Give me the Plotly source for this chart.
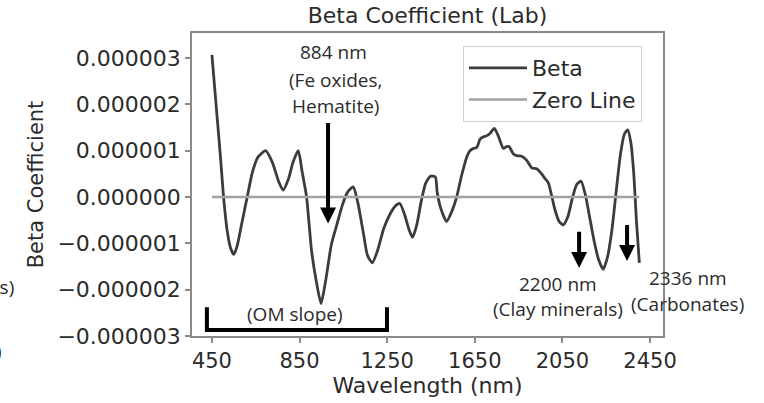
import plotly.graph_objects as go

# Regression coefficients (beta) across the spectrum, in units of 1e-6
wavelength_nm = [
    450, 470, 490, 503, 520, 535, 550, 565, 585, 611, 635, 660, 695, 725, 755,
    775, 800, 820, 844, 862, 882, 905, 925, 948, 970, 995, 1020, 1045, 1070,
    1095, 1115, 1140, 1160, 1182, 1205, 1235, 1265, 1290, 1308, 1330, 1350,
    1366, 1385, 1405, 1425, 1448, 1470, 1478, 1495, 1521, 1545, 1567, 1590,
    1613, 1628, 1645, 1659, 1674, 1690, 1704, 1719, 1739, 1757, 1780, 1795,
    1806, 1826, 1845, 1864, 1887, 1910, 1932, 1955, 1970, 1986, 2000, 2016,
    2035, 2054, 2075, 2095, 2115, 2135, 2155, 2175, 2195, 2215, 2236, 2255,
    2275, 2295, 2315, 2333, 2348, 2362, 2375, 2388, 2401,
]
beta_micro = [
    3.07, 1.93, 0.80, 0.00, -0.74, -1.10, -1.24, -1.06, -0.60, 0.00, 0.54,
    0.86, 1.00, 0.76, 0.33, 0.15, 0.40, 0.75, 1.00, 0.54, 0.00, -1.17, -1.78,
    -2.30, -1.78, -1.03, -0.60, -0.18, 0.11, 0.22, -0.10, -0.74, -1.26, -1.42,
    -1.17, -0.67, -0.35, -0.18, -0.14, -0.39, -0.71, -0.87, -0.60, -0.10, 0.29,
    0.45, 0.43, 0.11, -0.25, -0.53, -0.31, 0.00, 0.47, 0.86, 1.00, 1.05, 1.07,
    1.25, 1.30, 1.32, 1.37, 1.48, 1.32, 1.05, 1.09, 1.09, 0.93, 0.89, 0.88,
    0.79, 0.63, 0.61, 0.50, 0.40, 0.30, 0.04, -0.28, -0.53, -0.60, -0.42,
    -0.03, 0.27, 0.34, 0.04, -0.46, -0.96, -1.35, -1.56, -1.31, -0.74, 0.11,
    0.93, 1.36, 1.45, 1.18, 0.54, -0.53, -1.42,
]
beta = [v * 1e-6 for v in beta_micro]

y_tick_values = [3e-6, 2e-6, 1e-6, 0.0, -1e-6, -2e-6, -3e-6]
y_tick_labels = ["0.000003", "0.000002", "0.000001", "0.000000",
                 "\u22120.000001", "\u22120.000002", "\u22120.000003"]
x_tick_values = [450, 850, 1250, 1650, 2050, 2450]

AXIS_FONT = "DejaVu Sans"
NOTE_FONT = "Open Sans"
INK = "#2b2b2b"

# Plot-area geometry in pixels, used to place the free-floating notes
PLOT_L, PLOT_R, PLOT_T, PLOT_B = 192, 663, 33, 339


def to_paper(px, py):
    return ((px - PLOT_L) / (PLOT_R - PLOT_L), (PLOT_B - py) / (PLOT_B - PLOT_T))


fig = go.Figure()
fig.add_trace(go.Scatter(
    x=wavelength_nm, y=beta, mode="lines", name="Beta",
    line=dict(color="#3c3c3c", width=2.8, shape="spline", smoothing=0.6),
))
fig.add_trace(go.Scatter(
    x=[wavelength_nm[0], wavelength_nm[-1]], y=[0.0, 0.0], mode="lines",
    name="Zero Line", line=dict(color="#a2a2a2", width=2.5),
))

axis_common = dict(
    showline=True, mirror=True, linecolor="#8a8a8a", linewidth=1.5,
    ticks="outside", ticklen=5, tickwidth=1.5, tickcolor="#8a8a8a",
    showgrid=False, zeroline=False,
)

fig.update_layout(
    width=764, height=403,
    margin=dict(l=PLOT_L, r=764 - PLOT_R, t=PLOT_T, b=403 - PLOT_B),
    paper_bgcolor="white", plot_bgcolor="white",
    title=dict(text="Beta Coefficient (Lab)", x=0.5, xref="paper",
               y=1.0, yref="container", yanchor="top", pad=dict(t=8),
               font=dict(family=AXIS_FONT, size=22, color=INK)),
    xaxis=dict(range=[359, 2509], tickvals=x_tick_values,
               tickfont=dict(family=AXIS_FONT, size=21, color=INK),
               title=dict(text="Wavelength (nm)", standoff=3,
                          font=dict(family=AXIS_FONT, size=22, color=INK)),
               **axis_common),
    yaxis=dict(range=[-3.0e-6, 3.54e-6], tickvals=y_tick_values,
               ticktext=y_tick_labels,
               tickfont=dict(family=AXIS_FONT, size=22, color=INK),
               title=dict(text="Beta Coefficient", standoff=8,
                          font=dict(family=AXIS_FONT, size=21, color=INK)),
               **axis_common),
    legend=dict(x=(463 - PLOT_L) / (PLOT_R - PLOT_L), y=0.957,
                xanchor="left", yanchor="top",
                bgcolor="white", bordercolor="#d0d0d0", borderwidth=1,
                font=dict(family=AXIS_FONT, size=22, color=INK),
                itemwidth=58),
    showlegend=True,
)

# Absorption-feature labels (pixel centres)
notes = [
    ("884 nm", 333, 52),
    ("(Fe oxides,", 335, 80),
    ("Hematite)", 335, 107),
    ("(OM slope)", 295, 317),
    ("2200 nm", 558, 286),
    ("(Clay minerals)", 558, 312),
    ("2336 nm", 688, 280),
    ("(Carbonates)", 687, 307),
]
for text, px, py in notes:
    xp, yp = to_paper(px, py)
    fig.add_annotation(x=xp, y=yp, xref="paper", yref="paper", text=text,
                       showarrow=False, xanchor="center", yanchor="middle",
                       font=dict(family=NOTE_FONT, size=19, color=INK))

# Arrows pointing at the features (tail -> tip)
arrows = [
    (980, 1.63e-6, -0.57e-6),
    (2126, -0.72e-6, -1.53e-6),
    (2345, -0.57e-6, -1.38e-6),
]
for xv, y_tail, y_tip in arrows:
    fig.add_annotation(x=xv, y=y_tip, ax=xv, ay=y_tail, xref="x", yref="y",
                       axref="x", ayref="y", text="", showarrow=True,
                       arrowhead=2, arrowsize=0.8, arrowwidth=4,
                       arrowcolor="black")

# Bracket spanning the organic-matter slope region
fig.add_shape(type="path", xref="x", yref="paper",
              path="M 427,0.095 L 427,0.0196 L 1249,0.0196 L 1249,0.095",
              line=dict(color="black", width=4))

# Text fragments cut by the left page edge
for text, px, py in [("(Carbonates)", 16, 290), (")", 4, 354)]:
    xp, yp = to_paper(px, py)
    fig.add_annotation(x=xp, y=yp, xref="paper", yref="paper", text=text,
                       showarrow=False, xanchor="right", yanchor="middle",
                       font=dict(family=NOTE_FONT, size=19, color=INK))

fig.write_html("out.html")
